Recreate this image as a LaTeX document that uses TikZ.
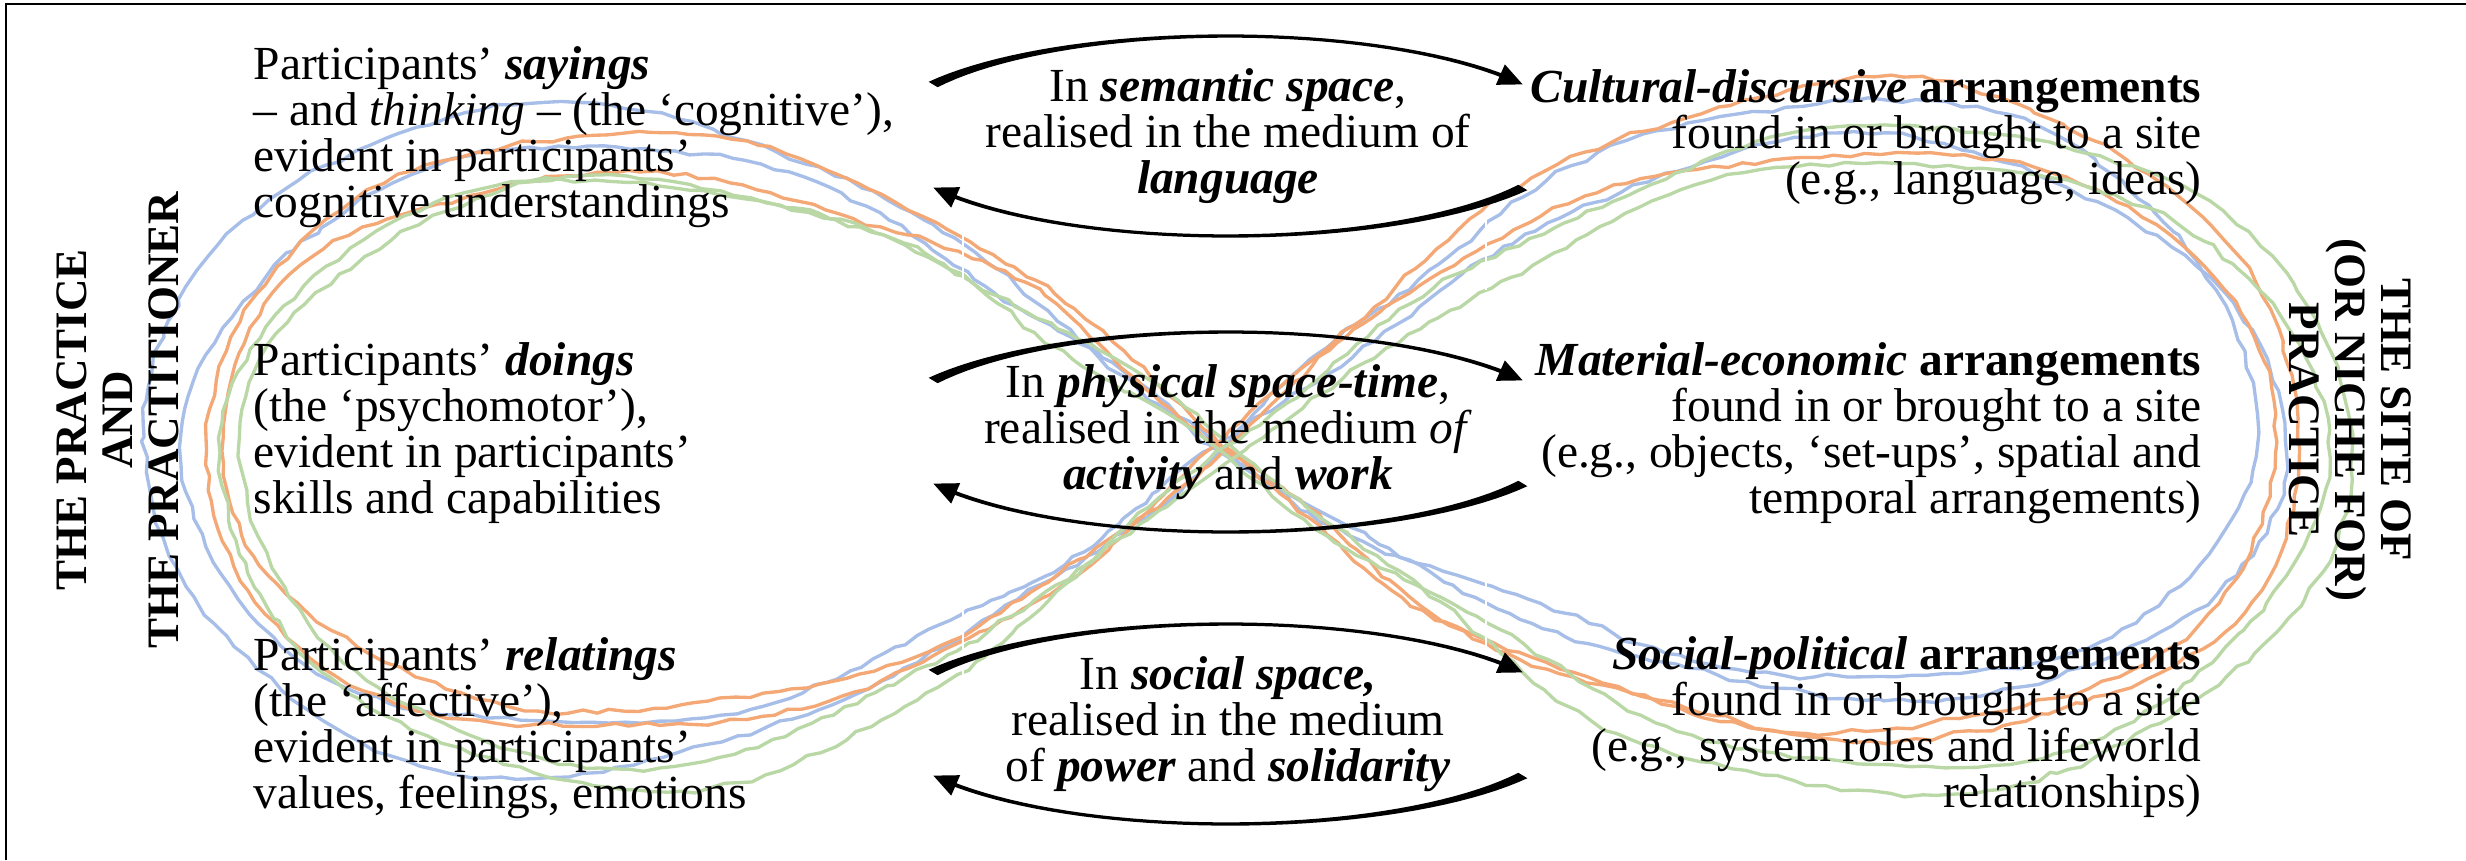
\documentclass[tikz,border=0pt]{standalone}
\usepackage{fontspec}
\setmainfont{Liberation Serif}
\usepackage{xcolor}
\usetikzlibrary{arrows.meta,positioning,calc,decorations.pathmorphing}

\definecolor{traceblue}{RGB}{166,190,232}
\definecolor{traceorange}{RGB}{244,168,118}
\definecolor{tracegreen}{RGB}{186,216,166}

\newcommand{\kw}[1]{\textbf{\textit{#1}}}

% hand-drawn figure of eight: colour, cx, cy, left/right half-width, lobe heights (px)
\newcommand{\eighttrace}[9]{%
  \pgfmathsetmacro{\pha}{360*rnd}\pgfmathsetmacro{\phb}{360*rnd}%
  \draw[trace,#1] plot[domain=0:360,samples=180]
    ({(#2+(cos(\x)>0 ? #5 : #4)*cos(\x)/(1+sin(\x)*sin(\x))+9*sin(5*\x+\pha)+5*sin(11*\x+\phb))/100},
     {-(#3-(\x<90 ? #6 : (\x<180 ? #7 : (\x<270 ? #8 : #9)))*sin(\x)*cos(\x)/(1+sin(\x)*sin(\x))+9*cos(4*\x+\phb)+5*sin(13*\x+\pha))/100}) -- cycle;}

% tapered curved arrow round a node: node, start angle, end angle, end of taper
\def\ea{344}
\def\eb{100}
\newcommand{\roundarrow}[4]{%
  \begin{scope}[shift={(#1.center)}]
    \fill plot[domain=#2:#4,samples=40]
        ({(\ea+tw((\x-(#2))/((#3)-(#2)))/2)*cos(\x)/100},{(\eb+tw((\x-(#2))/((#3)-(#2)))/2)*sin(\x)/100})
      -- plot[domain=#4:#2,samples=40]
        ({(\ea-tw((\x-(#2))/((#3)-(#2)))/2)*cos(\x)/100},{(\eb-tw((\x-(#2))/((#3)-(#2)))/2)*sin(\x)/100})
      -- cycle;
    \draw[line width=1.2pt,-{Triangle[length=7pt,width=6pt]}]
      ({\ea*cos(#4)/100},{\eb*sin(#4)/100}) -- ({\ea*cos(#3)/100},{\eb*sin(#3)/100});
  \end{scope}}

\tikzset{
  declare function={tw(\s)=2.5+8*(1-\s)^4+2.5*\s^3;},
  trace/.style={line width=0.95pt,line join=round,decorate,
    decoration={random steps,segment length=4pt,amplitude=0.9pt}},
  leftblock/.style={anchor=west,align=left,inner sep=0pt,font=\fontsize{13.5}{13.1}\selectfont},
  rightblock/.style={anchor=east,align=right,inner sep=0pt,font=\fontsize{13.5}{13.1}\selectfont},
  midblock/.style={align=center,inner sep=0pt,font=\fontsize{13.5}{13.1}\selectfont},
  sidelabel/.style={align=center,inner sep=0pt,font=\fontsize{12.8}{13.1}\selectfont\bfseries}
}

\begin{document}
\begin{tikzpicture}
\pgfmathsetseed{7}
\useasboundingbox (0,0) rectangle (24.66,-8.60);
% frame (left and top only)
\draw[line width=0.8pt] (0.06,-8.60) -- (0.06,-0.04) -- (24.66,-0.04);

% the traced figures of eight
\eighttrace{traceblue}{1215}{445}{1073}{1045}{961}{933}{933}{665}
\eighttrace{traceblue}{1220}{445}{1033}{1060}{848}{806}{834}{721}
\eighttrace{traceorange}{1225}{445}{1027}{1082}{1032}{834}{891}{848}
\eighttrace{traceorange}{1222}{448}{1012}{1068}{862}{758}{792}{814}
\eighttrace{tracegreen}{1230}{450}{1000}{1113}{933}{939}{778}{953}
\eighttrace{tracegreen}{1226}{452}{976}{1094}{806}{877}{749}{891}
\draw[white,line width=0.5pt] (9.63,-2.03) -- (9.63,-2.87);
\draw[white,line width=0.5pt] (14.86,-2.17) -- (14.86,-2.90);
\draw[white,line width=0.5pt] (9.63,-6.00) -- (9.63,-6.97);
\draw[white,line width=0.5pt] (14.86,-5.60) -- (14.86,-6.50);

% middle column
\node[midblock] (sem) at (12.28,-1.36) {In \kw{semantic space},\\ realised in the medium of\\ \kw{language}};
\node[midblock] (phys) at (12.28,-4.32) {In \kw{physical space-time},\\ realised in the medium \textit{of}\\ \kw{activity} and \kw{work}};
\node[midblock] (soc) at (12.28,-7.24) {In \kw{social space,}\\ realised in the medium\\ of \kw{power} and \kw{solidarity}};
\roundarrow{sem}{149}{31}{36}
\roundarrow{sem}{-31}{-149}{-144}
\roundarrow{phys}{149}{31}{36}
\roundarrow{phys}{-31}{-149}{-144}
\roundarrow{soc}{149}{31}{36}
\roundarrow{soc}{-31}{-149}{-144}

% left column
\node[leftblock] (say) at (2.53,-1.37) {Participants' \kw{sayings}\\ -- and \textit{thinking} -- (the `cognitive'),\\ evident in participants'\\ cognitive understandings};
\node[leftblock] (do) at (2.53,-4.33) {Participants' \kw{doings}\\ (the `psychomotor'),\\ evident in participants'\\ skills and capabilities};
\node[leftblock] (rel) at (2.53,-7.28) {Participants' \kw{relatings}\\ (the `affective'),\\ evident in participants'\\ values, feelings, emotions};

% right column
\node[rightblock] (cult) at (22.02,-1.37) {\kw{Cultural-discursive} \textbf{arrangements}\\ found in or brought to a site\\ (e.g., language, ideas)};
\node[rightblock] (mat) at (22.02,-4.33) {\kw{Material-economic} \textbf{arrangements}\\ found in or brought to a site\\ (e.g., objects, `set-ups', spatial and\\ temporal arrangements)};
\node[rightblock] (pol) at (22.02,-7.27) {\kw{Social-political} \textbf{arrangements}\\ found in or brought to a site\\ (e.g., system roles and lifeworld\\ relationships)};

% side labels
\node[sidelabel,rotate=90] (prac) at (1.18,-4.20) {THE PRACTICE\\ AND\\ THE PRACTITIONER};
\node[sidelabel,rotate=-90] (site) at (23.50,-4.20) {THE SITE OF\\ (OR NICHE FOR)\\ PRACTICE};
\end{tikzpicture}
\end{document}
